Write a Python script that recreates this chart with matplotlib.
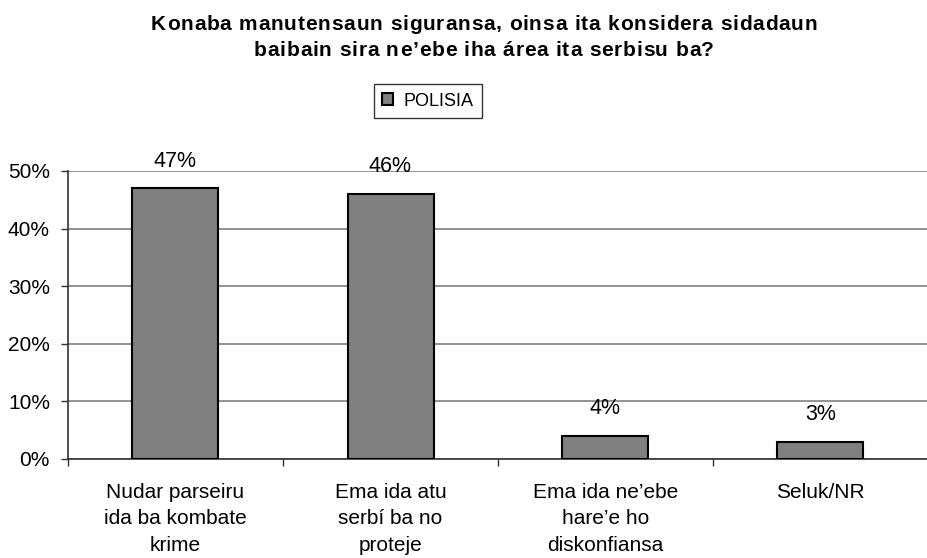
import matplotlib.pyplot as plt
from matplotlib import font_manager
from matplotlib.font_manager import FontProperties
from matplotlib.ft2font import FT2Font
import numpy as np

plt.rcParams['font.family'] = ['Liberation Sans', 'DejaVu Sans']

# Respostas sobre a POLISIA
categorias = ["Nudar parseiru\nida ba kombate\nkrime",
              "Ema ida atu\nserbí ba no\nproteje",
              "Ema ida ne’ebe\nhare’e ho\ndiskonfiansa",
              "Seluk/NR"]
valores = [47, 46, 4, 3]
etiketas = ["47%", "46%", "4%", "3%"]
titulu = ["Konaba manutensaun siguransa, oinsa ita konsidera sidadaun",
          "baibain sira ne’ebe iha área ita serbisu ba?"]

W, H = 928, 558
fig = plt.figure(figsize=(W / 100, H / 100), dpi=100)
ax = fig.add_axes([68 / W, 1 - 459 / H, 1 - 68 / W, (459 - 171) / H])

x = np.arange(len(categorias))
bars = ax.bar(x, valores, width=0.4, color="#808080", edgecolor="black",
              linewidth=1.5, label="POLISIA", zorder=3)

for xi, v, t in zip(x, valores, etiketas):
    ax.annotate(t, (xi, v), xytext=(0, 19.5), textcoords="offset points",
                ha="center", va="center", fontsize=15.5)

ax.set_xlim(-0.5, 3.5)
ax.set_ylim(0, 50)
ax.set_yticks(range(0, 51, 10))
ax.set_yticklabels([f"{v}%" for v in range(0, 51, 10)], fontsize=15)
ax.yaxis.grid(True, color="#808080", linewidth=1.2, zorder=0)

# marka sira entre kategoria
ax.set_xticks(np.arange(-0.5, 4, 1.0))
ax.set_xticklabels([])
ax.set_xticks(x, minor=True)
ax.set_xticklabels(categorias, minor=True, fontsize=15, linespacing=1.5)
ax.tick_params(axis="x", which="minor", length=0, pad=17)
ax.tick_params(axis="x", which="major", length=5, color="#333333", width=1)
ax.tick_params(axis="y", length=5, color="#333333", width=1, pad=8)

for s in ["top", "right"]:
    ax.spines[s].set_visible(False)
for s in ["left", "bottom"]:
    ax.spines[s].set_color("#333333")
    ax.spines[s].set_linewidth(1.2)


# titulu ho espasu entre letra
def text_espasu(linha, cx, cy, size, espasu):
    prop = FontProperties(family="Liberation Sans", weight="bold", size=size)
    ft = FT2Font(font_manager.findfont(prop))
    ft.set_size(size, 100)
    avansu = [ft.load_char(ord(c)).linearHoriAdvance / 65536 for c in linha]
    total = sum(avansu) + espasu * (len(linha) - 1)
    px = cx - total / 2
    for c, a in zip(linha, avansu):
        fig.text(px / W, 1 - cy / H, c, fontproperties=prop, ha="left", va="center")
        px += a + espasu


text_espasu(titulu[0], 484, 24, 15, 0.8)
text_espasu(titulu[1], 484, 50, 15, 0.8)

leg = fig.legend(handles=[bars], labels=["POLISIA"], loc="center",
                 bbox_to_anchor=(428 / W, 1 - 101 / H), fontsize=13,
                 frameon=True, fancybox=False, handlelength=0.6, handleheight=0.6,
                 handletextpad=0.6, borderpad=0.45, borderaxespad=0)
leg.get_frame().set_edgecolor("black")
leg.get_frame().set_linewidth(1)

fig.savefig("out.png", dpi=100)
